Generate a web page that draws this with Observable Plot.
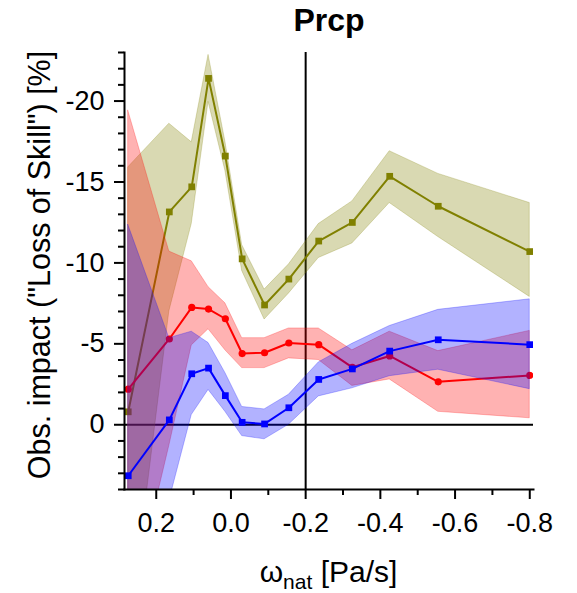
<!DOCTYPE html>
<html>
<head>
<meta charset="utf-8">
<script src="https://cdn.jsdelivr.net/npm/d3@7"></script>
<script src="https://cdn.jsdelivr.net/npm/@observablehq/plot@0.6"></script>
<style>
  html, body { margin: 0; padding: 0; background: #fff; }
  #chart { width: 577px; height: 593px; }
</style>
</head>
<body>
<div id="chart"></div>
<script>
// ---- data ----
const omega = [0.275, 0.165, 0.105, 0.06, 0.015, -0.03, -0.09, -0.155, -0.235, -0.325, -0.425, -0.555, -0.8];

const oliveMean = [-0.8, -13.15, -14.7, -21.4, -16.6, -10.25, -7.4, -9.0, -11.35, -12.5, -15.35, -13.5, -10.7];
const oliveHi   = [-15.9, -18.6, -17.45, -22.85, -17.5, -11.1, -8.35, -9.9, -12.4, -13.8, -16.9, -15.5, -13.7];
const oliveLo   = [13.5, -7.0, -12.4, -19.95, -15.7, -9.5, -6.5, -8.1, -10.3, -11.2, -13.7, -11.6, -7.9];

const redMean = [-2.2, -5.3, -7.25, -7.15, -6.55, -4.4, -4.45, -5.05, -4.95, -3.55, -4.25, -2.65, -3.05];
const redHi   = [-19.4, -10.7, -10.1, -8.5, -7.5, -5.35, -5.35, -5.95, -5.95, -4.6, -5.75, -4.55, -5.8];
const redLo   = [12, 1.3, -4.9, -5.9, -4.6, -3.5, -3.5, -4.1, -4.0, -2.4, -2.8, -0.8, -0.4];

const blueMean = [3.15, -0.3, -3.15, -3.5, -1.8, -0.15, -0.05, -1.05, -2.8, -3.45, -4.55, -5.25, -4.95];
const blueHi   = [-12.35, -5.35, -5.75, -5.05, -3.2, -1.1, -0.95, -1.85, -3.85, -5.0, -6.1, -7.1, -7.75];
const blueLo   = [14, 4.7, -0.6, -2.15, -0.8, 0.7, 0.9, 0.0, -1.75, -2.25, -3.0, -3.4, -2.2];

const xTickMajor = [0.2, 0.0, -0.2, -0.4, -0.6, -0.8];
const xTickMinor = [0.1, -0.1, -0.3, -0.5, -0.7];
const yTickMajor = [-20, -15, -10, -5, 0];
const yTickMinor = d3.range(-23, 5).filter(v => v % 5 !== 0);

const titleText = "Prcp";
const yLabelText = "Obs. impact (\"Loss of Skill\") [%]";

const OLIVE = "#808000", RED = "#ff0000", BLUE = "#0000ff";

function rows(mean, hi, lo) {
  return omega.map((x, i) => ({x, y: mean[i], hi: hi[i], lo: lo[i]}));
}
const olive = rows(oliveMean, oliveHi, oliveLo);
const red = rows(redMean, redHi, redLo);
const blue = rows(blueMean, blueHi, blueLo);

function series(data, color, symbol, r) {
  return [
    Plot.areaY(data, {x: "x", y1: "lo", y2: "hi", fill: color, fillOpacity: 0.3,
      stroke: color, strokeOpacity: 0.25, strokeWidth: 1, clip: true}),
    Plot.lineY(data, {x: "x", y: "y", stroke: color, strokeWidth: 2, clip: true}),
    Plot.dot(data, {x: "x", y: "y", fill: color, stroke: "none", symbol, r, clip: true})
  ];
}

const W = 577, H = 593, ML = 124, MR = 44, MT = 52, MB = 104;

const chart = Plot.plot({
  width: W, height: H,
  marginLeft: ML, marginRight: MR, marginTop: MT, marginBottom: MB,
  style: {fontFamily: "'Liberation Sans', Arial, sans-serif", fontSize: "27px", color: "black", background: "white", overflow: "visible"},
  x: {domain: [0.285, -0.81]},
  y: {domain: [4, -23]},
  marks: [
    Plot.ruleY([0], {stroke: "black", strokeWidth: 2}),
    Plot.ruleX([-0.2], {stroke: "black", strokeWidth: 2}),
    ...series(olive, OLIVE, "square", 3.8),
    ...series(red, RED, "circle", 3.6),
    ...series(blue, BLUE, "square", 3.8),
    Plot.frame({anchor: "left", stroke: "black", strokeWidth: 2}),
    Plot.frame({anchor: "bottom", stroke: "black", strokeWidth: 2}),
    Plot.axisX(xTickMajor, {tickSize: 10, tickPadding: 13, strokeWidth: 2, fontSize: 27,
      tickFormat: d => d.toFixed(1), label: null}),
    Plot.axisX(xTickMinor, {tickSize: 6, strokeWidth: 2, tickFormat: () => "", label: null}),
    Plot.axisY(yTickMajor, {tickSize: 10, tickPadding: 10, strokeWidth: 2, fontSize: 27,
      tickFormat: d => String(d), label: null}),
    Plot.axisY(yTickMinor, {tickSize: 6, strokeWidth: 2, tickFormat: () => "", label: null}),
    Plot.text([titleText], {frameAnchor: "top", lineAnchor: "middle", dy: -32, fontSize: 32, fontWeight: "bold", text: d => d}),
    Plot.text([yLabelText], {frameAnchor: "left", textAnchor: "middle", lineAnchor: "middle", dx: -84, dy: -6, rotate: -90, fontSize: 30.5, text: d => d})
  ]
});

// x-axis label with subscript
const svg = d3.select(chart);
const xl = svg.append("text")
  .attr("x", (ML + W - MR) / 2)
  .attr("y", 582)
  .attr("text-anchor", "middle")
  .attr("font-size", 30)
  .attr("fill", "black");
xl.append("tspan").text("ω");
xl.append("tspan").attr("font-size", 21).attr("dy", 7).text("nat");
xl.append("tspan").attr("dy", -7).text(" [Pa/s]");

document.getElementById("chart").appendChild(chart);
</script>
</body>
</html>
